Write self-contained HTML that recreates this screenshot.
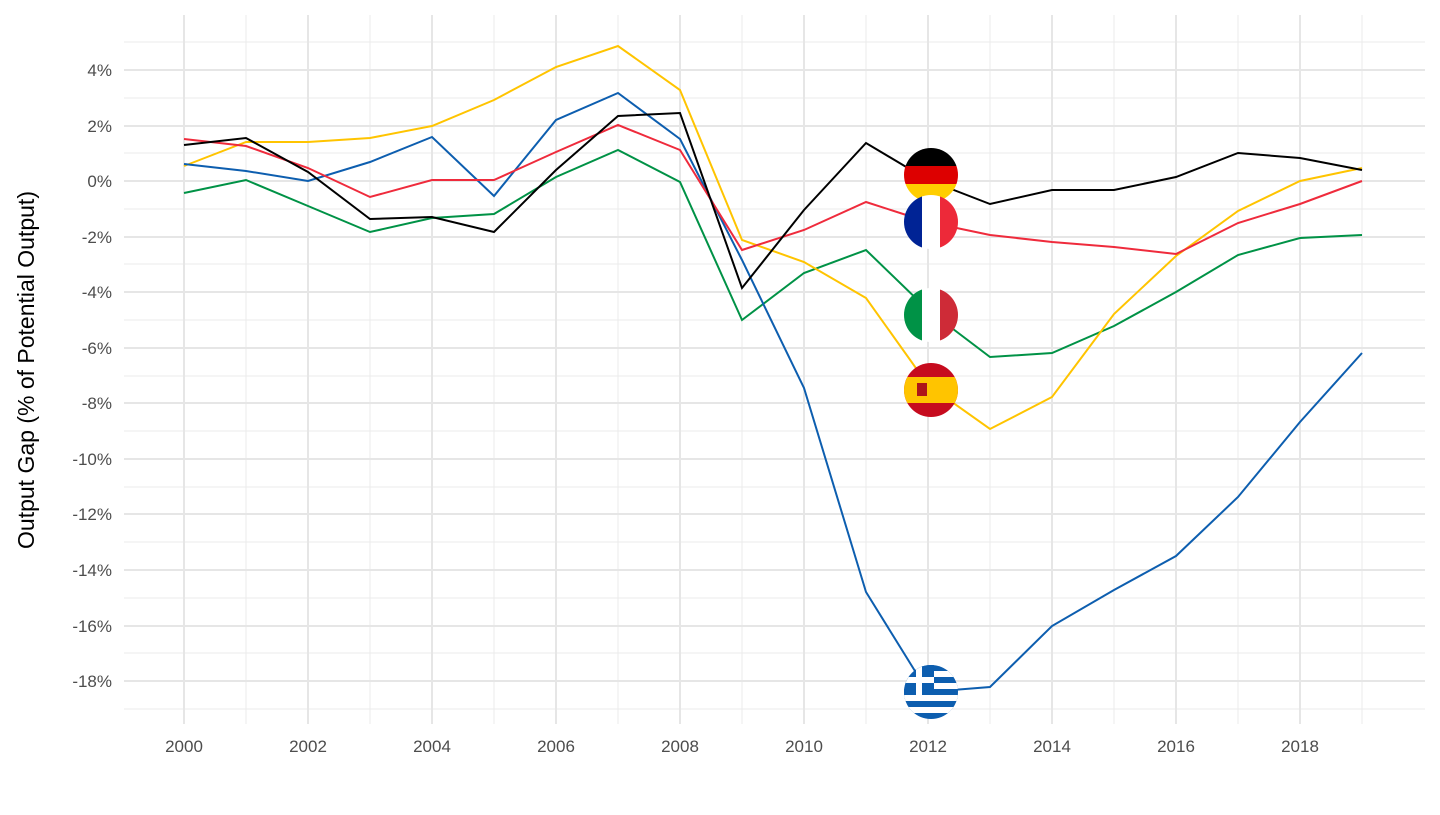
<!DOCTYPE html>
<html><head><meta charset="utf-8"><style>body{margin:0;background:#fff}</style></head><body>
<svg width="1440" height="810" xmlns="http://www.w3.org/2000/svg" font-family="Liberation Sans, sans-serif">
<defs>
<clipPath id="c"><circle cx="0" cy="0" r="27"/></clipPath>
</defs>
<g stroke="#ebebeb" stroke-width="1">
<line x1="124" x2="1425" y1="42" y2="42"/><line x1="124" x2="1425" y1="98" y2="98"/><line x1="124" x2="1425" y1="153" y2="153"/><line x1="124" x2="1425" y1="209" y2="209"/><line x1="124" x2="1425" y1="264" y2="264"/><line x1="124" x2="1425" y1="320" y2="320"/><line x1="124" x2="1425" y1="376" y2="376"/><line x1="124" x2="1425" y1="431" y2="431"/><line x1="124" x2="1425" y1="487" y2="487"/><line x1="124" x2="1425" y1="542" y2="542"/><line x1="124" x2="1425" y1="598" y2="598"/><line x1="124" x2="1425" y1="653" y2="653"/><line x1="124" x2="1425" y1="709" y2="709"/>
<line y1="15" y2="724" x1="246" x2="246"/><line y1="15" y2="724" x1="370" x2="370"/><line y1="15" y2="724" x1="494" x2="494"/><line y1="15" y2="724" x1="618" x2="618"/><line y1="15" y2="724" x1="742" x2="742"/><line y1="15" y2="724" x1="866" x2="866"/><line y1="15" y2="724" x1="990" x2="990"/><line y1="15" y2="724" x1="1114" x2="1114"/><line y1="15" y2="724" x1="1238" x2="1238"/><line y1="15" y2="724" x1="1362" x2="1362"/>
</g>
<g stroke="#e6e6e6" stroke-width="2">
<line x1="124" x2="1425" y1="70" y2="70"/><line x1="124" x2="1425" y1="126" y2="126"/><line x1="124" x2="1425" y1="181" y2="181"/><line x1="124" x2="1425" y1="237" y2="237"/><line x1="124" x2="1425" y1="292" y2="292"/><line x1="124" x2="1425" y1="348" y2="348"/><line x1="124" x2="1425" y1="403" y2="403"/><line x1="124" x2="1425" y1="459" y2="459"/><line x1="124" x2="1425" y1="514" y2="514"/><line x1="124" x2="1425" y1="570" y2="570"/><line x1="124" x2="1425" y1="626" y2="626"/><line x1="124" x2="1425" y1="681" y2="681"/>
<line y1="15" y2="724" x1="184" x2="184"/><line y1="15" y2="724" x1="308" x2="308"/><line y1="15" y2="724" x1="432" x2="432"/><line y1="15" y2="724" x1="556" x2="556"/><line y1="15" y2="724" x1="680" x2="680"/><line y1="15" y2="724" x1="804" x2="804"/><line y1="15" y2="724" x1="928" x2="928"/><line y1="15" y2="724" x1="1052" x2="1052"/><line y1="15" y2="724" x1="1176" x2="1176"/><line y1="15" y2="724" x1="1300" x2="1300"/>
</g>
<g fill="#4d4d4d" font-size="17" text-anchor="end">
<text x="112" y="76">4%</text><text x="112" y="132">2%</text><text x="112" y="187">0%</text><text x="112" y="243">-2%</text><text x="112" y="298">-4%</text><text x="112" y="354">-6%</text><text x="112" y="409">-8%</text><text x="112" y="465">-10%</text><text x="112" y="520">-12%</text><text x="112" y="576">-14%</text><text x="112" y="632">-16%</text><text x="112" y="687">-18%</text>
</g>
<g fill="#4d4d4d" font-size="17" text-anchor="middle">
<text x="184" y="752">2000</text><text x="308" y="752">2002</text><text x="432" y="752">2004</text><text x="556" y="752">2006</text><text x="680" y="752">2008</text><text x="804" y="752">2010</text><text x="928" y="752">2012</text><text x="1052" y="752">2014</text><text x="1176" y="752">2016</text><text x="1300" y="752">2018</text>
</g>
<text transform="translate(34,370) rotate(-90)" text-anchor="middle" font-size="23" fill="#000">Output Gap (% of Potential Output)</text>
<g fill="none" stroke-width="2">
<polyline stroke="#009246" points="184,193 246,180 308,206 370,232 432,218 494,214 556,177 618,150 680,182 742,320 804,273 866,250 928,310 990,357 1052,353 1114,326 1176,292 1238,255 1300,238 1362,235"/>
<polyline stroke="#FFC400" points="184,166 246,142 308,142 370,138 432,126 494,100 556,67 618,46 680,90 742,240 804,262 866,298 928,385 990,429 1052,397 1114,314 1176,256 1238,211 1300,181 1362,168"/>
<polyline stroke="#0D5EAF" points="184,164 246,171 308,181 370,162 432,137 494,196 556,120 618,93 680,139 742,260 804,388 866,592 928,692 990,687 1052,626 1114,590 1176,556 1238,497 1300,422 1362,353"/>
<polyline stroke="#EF2B3C" points="184,139 246,146 308,168 370,197 432,180 494,180 556,152 618,125 680,150 742,250 804,230 866,202 928,222 990,235 1052,242 1114,247 1176,254 1238,223 1300,204 1362,181"/>
<polyline stroke="#000" points="184,145 246,138 308,172 370,219 432,217 494,232 556,170 618,116 680,113 742,288 804,210 866,143 928,180 990,204 1052,190 1114,190 1176,177 1238,153 1300,158 1362,170"/>
</g>
<g transform="translate(931,175)" clip-path="url(#c)"><rect x="-27" y="-27" width="54" height="18" fill="#000"/><rect x="-27" y="-9" width="54" height="18" fill="#DD0000"/><rect x="-27" y="9" width="54" height="18" fill="#FFCE00"/></g>
<g transform="translate(931,222)" clip-path="url(#c)"><rect x="-27" y="-27" width="18" height="54" fill="#002395"/><rect x="-9" y="-27" width="18" height="54" fill="#fff"/><rect x="9" y="-27" width="18" height="54" fill="#ED2939"/></g>
<g transform="translate(931,315)" clip-path="url(#c)"><rect x="-27" y="-27" width="18" height="54" fill="#009246"/><rect x="-9" y="-27" width="18" height="54" fill="#fff"/><rect x="9" y="-27" width="18" height="54" fill="#CE2B37"/></g>
<g transform="translate(931,390)" clip-path="url(#c)"><rect x="-27" y="-27" width="54" height="54" fill="#C60B1E"/><rect x="-27" y="-13" width="54" height="26" fill="#FFC400"/><rect x="-14" y="-7" width="10" height="13" fill="#AD1519"/></g>
<g transform="translate(931,692)" clip-path="url(#c)"><rect x="-27" y="-27" width="54" height="54" fill="#0D5EAF"/><g fill="#fff"><rect x="-27" y="-21" width="54" height="6"/><rect x="-27" y="-9" width="54" height="6"/><rect x="-27" y="3" width="54" height="6"/><rect x="-27" y="15" width="54" height="6"/></g><rect x="-27" y="-27" width="30" height="30" fill="#0D5EAF"/><rect x="-27" y="-15" width="30" height="6" fill="#fff"/><rect x="-15" y="-27" width="6" height="30" fill="#fff"/></g>
</svg>
</body></html>
